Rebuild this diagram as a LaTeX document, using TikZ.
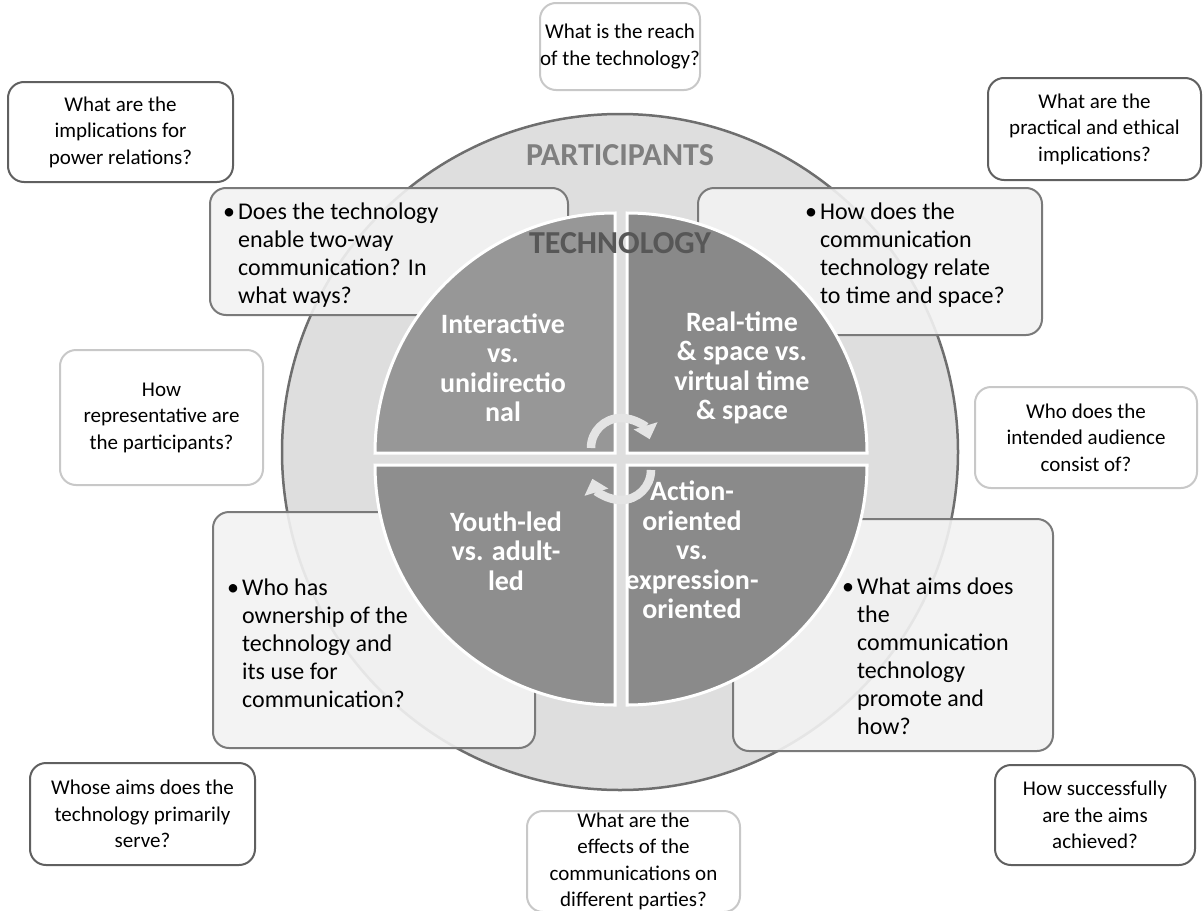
\documentclass[tikz,border=0pt]{standalone}
\usepackage{fontspec}
\setmainfont{Carlito}
\usetikzlibrary{arrows.meta}

\definecolor{ringfill}{HTML}{DEDEDE}
\definecolor{ringline}{HTML}{6E6E6E}
\definecolor{quadA}{HTML}{979797}
\definecolor{quadB}{HTML}{898989}
\definecolor{quadC}{HTML}{8E8E8E}
\definecolor{quadD}{HTML}{8A8A8A}
\definecolor{boxfill}{HTML}{F2F2F2}
\definecolor{boxline}{HTML}{7A7A7A}
\definecolor{darkline}{HTML}{606060}
\definecolor{paleline}{HTML}{C8C8C8}
\definecolor{arrowgrey}{HTML}{E4E4E4}
\definecolor{headgrey}{HTML}{7F7F7F}
\definecolor{techgrey}{HTML}{575757}

\newcommand{\bulletlines}[1]{\begin{tabular}[t]{@{}l@{\hspace{3pt}}l@{}}#1\end{tabular}}

\tikzset{
  question/.style={draw=darkline, line width=2pt, fill=white, rounded corners=16pt,
    align=center, inner sep=0pt, font=\fontsize{21}{26.5}\selectfont},
  palequestion/.style={question, draw=paleline},
  bulletbox/.style={draw=boxline, line width=2pt, fill=boxfill, fill opacity=0.9,
    rounded corners=16pt, inner sep=0pt},
  bullettext/.style={anchor=base west, inner sep=0pt, font=\fontsize{24}{28}\selectfont},
  quadtext/.style={text=white, align=center, font=\bfseries\fontsize{28}{29.5}\selectfont},
  heading/.style={inner sep=0pt, font=\bfseries\fontsize{32}{36}\selectfont},
  turnarrow/.style={draw=arrowgrey, line width=8.5pt, -{Triangle[length=14pt,width=24pt]}},
}

\begin{document}
\begin{tikzpicture}[x=1pt,y=-1pt]
  \useasboundingbox (0,0) rectangle (1204,910);
  \coordinate (hub) at (620,452);
  \coordinate (core) at (621,459);

  % participants ring
  \draw[draw=ringline, line width=2.5pt, fill=ringfill] (hub) circle[radius=338];

  % questions behind the quarters
  \node[bulletbox, minimum width=358pt, minimum height=127pt] (twoway) at (389,251.5) {};
  \node[bullettext] (twowaytext) at (223,219)
    {\bulletlines{\textbullet & Does the technology\\ & enable two-way\\ & communication? In\\ & what ways?}};
  \node[bulletbox, minimum width=344pt, minimum height=147pt] (timespace) at (870,261.5) {};
  \node[bullettext] (timespacetext) at (805,219)
    {\bulletlines{\textbullet & How does the\\ & communication\\ & technology relate\\ & to time and space?}};
  \node[bulletbox, minimum width=322pt, minimum height=236pt] (ownership) at (374,630) {};
  \node[bullettext] (ownershiptext) at (227,595)
    {\bulletlines{\textbullet & Who has\\ & ownership of the\\ & technology and\\ & its use for\\ & communication?}};
  \node[bulletbox, minimum width=320pt, minimum height=232pt] (promote) at (893,635) {};
  \node[bullettext] (promotetext) at (842,594)
    {\bulletlines{\textbullet & What aims does\\ & the\\ & communication\\ & technology\\ & promote and\\ & how?}};

  % technology quarters
  \foreach \dx/\dy/\a/\col in {-6/-6/180/quadA, 6/-6/270/quadB, -6/6/90/quadC, 6/6/0/quadD}
    \filldraw[fill=\col, draw=white, line width=3pt]
      ([shift={(\dx,\dy)}]core) -- ++(\a:240) arc[start angle=\a, delta angle=90, radius=240] -- cycle;

  % turning arrows
  \draw[turnarrow] ([shift={(180:30)}]621,448) arc[start angle=180, end angle=343, radius=30];
  \draw[turnarrow] ([shift={(0:30)}]621,470) arc[start angle=0, end angle=163, radius=30];

  \node[quadtext] (interactive) at (503,368) {Interactive\\vs.\\unidirectio\\nal};
  \node[quadtext] (realtime) at (742,368) {Real-time\\\& space vs.\\virtual time\\\& space};
  \node[quadtext] (youthled) at (506,551) {Youth-led\\vs. adult-\\led};
  \node[quadtext] (actionor) at (692,550) {Action-\\oriented\\vs.\\expression-\\oriented};

  \node[heading, text=headgrey] (participants) at (620,155) {PARTICIPANTS};
  \node[heading, text=techgrey] (technology) at (620,243) {TECHNOLOGY};

  % questions round the ring
  \node[question, minimum width=225pt, minimum height=100pt] (power) at (120.5,132)
    {What are the\\implications for\\power relations?};
  \node[palequestion, minimum width=160pt, minimum height=87pt] (reach) at (620,46.5)
    {What is the reach\\of the technology?};
  \node[question, minimum width=213pt, minimum height=102pt] (ethics) at (1094.5,129)
    {What are the\\practical and ethical\\implications?};
  \node[palequestion, minimum width=203pt, minimum height=135pt] (represent) at (161.5,417.5)
    {How\\representative are\\the participants?};
  \node[palequestion, minimum width=222pt, minimum height=101pt] (audience) at (1086,437.5)
    {Who does the\\intended audience\\consist of?};
  \node[question, minimum width=225pt, minimum height=102pt] (whoseaims) at (142.5,814)
    {Whose aims does the\\technology primarily\\serve?};
  \node[question, minimum width=200pt, minimum height=100pt] (success) at (1095,815)
    {How successfully\\are the aims\\achieved?};
  \node[palequestion, minimum width=213pt, minimum height=101pt] (effects) at (633.5,861.5)
    {What are the\\effects of the\\communications on\\different parties?};
\end{tikzpicture}
\end{document}
